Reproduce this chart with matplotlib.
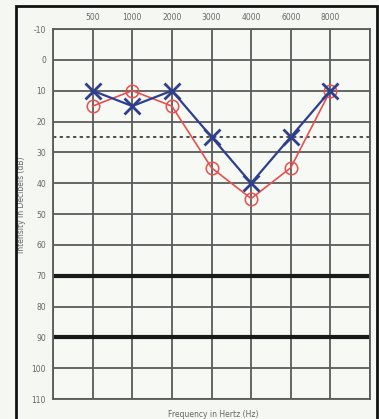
import numpy as np
import matplotlib
matplotlib.use("Agg")
import matplotlib.pyplot as plt
from matplotlib.patches import Rectangle

# audiogram data
freq_labels = ["500", "1000", "2000", "3000", "4000", "6000", "8000"]
db_ticks = [-10, 0, 10, 20, 30, 40, 50, 60, 70, 80, 90, 100, 110]
left_ear = [10, 15, 10, 25, 40, 25, 10]     # blue X
right_ear = [15, 10, 15, 35, 45, 35, 10]    # red O
dashed_level = 25
thick_levels = [70, 90]

W, H = 379, 419
fig = plt.figure(figsize=(W / 100, H / 100), dpi=100)
fig.patch.set_facecolor("#f5f7f2")

# outer frame
fig.patches.append(Rectangle((16 / W, -0.01), (377 - 16) / W, 1 - 6 / H + 0.01,
                             transform=fig.transFigure, fill=False,
                             edgecolor="#111111", linewidth=2.0, zorder=10))

ax = fig.add_axes([53 / W, 1 - 399 / H, (370 - 53) / W, (399 - 29) / H])
ax.set_facecolor("#f7f9f5")

x = np.arange(1, len(freq_labels) + 1)
ax.set_xlim(0, len(freq_labels) + 1)
ax.set_ylim(110, -10)

grid_c = "#5a5a5a"
for xv in range(0, len(freq_labels) + 2):
    ax.axvline(xv, color=grid_c, linewidth=1.3, zorder=1)
for yv in db_ticks:
    ax.axhline(yv, color=grid_c, linewidth=1.3, zorder=1)
for yv in thick_levels:
    ax.axhline(yv, color="#1a1a1a", linewidth=3.0, zorder=2)
ax.axhline(dashed_level, color="#333333", linewidth=1.2,
           linestyle=(0, (2, 2)), zorder=2)

ax.plot(x, right_ear, color="#e8504f", linewidth=1.2, marker="o",
        markersize=9, markerfacecolor="none", markeredgewidth=1.1, zorder=3)
ax.plot(x, left_ear, color="#2f3f8f", linewidth=1.6, marker="x",
        markersize=11, markeredgewidth=2.0, zorder=4)

for s in ax.spines.values():
    s.set_color(grid_c)
    s.set_linewidth(1.3)

ax.set_xticks(x)
ax.set_xticklabels(freq_labels)
ax.xaxis.tick_top()
ax.set_yticks(db_ticks)
ax.set_yticklabels([str(v) for v in db_ticks])
ax.tick_params(length=0, labelsize=5.5, colors="#666666", pad=5)

fig.text(213 / W, 1 - 414 / H, "Frequency in Hertz (Hz)", fontsize=5.5,
         color="#666666", ha="center", va="center")
fig.text(22 / W, 1 - 205 / H, "Intensity in Decibels (dB)", fontsize=5.5,
         color="#666666", ha="center", va="center", rotation=90)

fig.savefig("out.png", dpi=100, facecolor=fig.get_facecolor())
